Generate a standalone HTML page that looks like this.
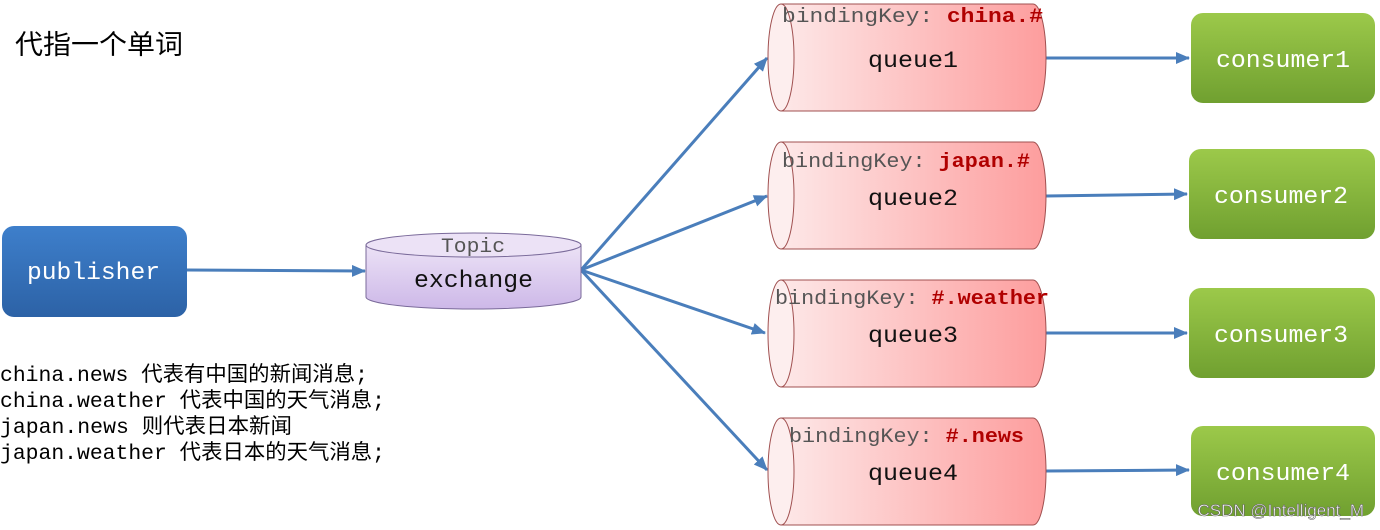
<!DOCTYPE html>
<html><head><meta charset="utf-8"><style>
html,body{margin:0;padding:0;background:#fff}
svg{display:block}
.m{font-family:"Liberation Mono","Noto Sans CJK SC",monospace}
</style></head><body>
<svg width="1380" height="530" viewBox="0 0 1380 530" xmlns="http://www.w3.org/2000/svg">
<defs>
<linearGradient id="qg" x1="0" x2="1" y1="0" y2="0"><stop offset="0" stop-color="#fde8e8"/><stop offset="1" stop-color="#fd9d9d"/></linearGradient>
<linearGradient id="pg" x1="0" x2="0" y1="0" y2="1"><stop offset="0" stop-color="#3e7fcb"/><stop offset="1" stop-color="#2c62a6"/></linearGradient>
<linearGradient id="cg" x1="0" x2="0" y1="0" y2="1"><stop offset="0" stop-color="#9cc94a"/><stop offset="1" stop-color="#70a030"/></linearGradient>
<linearGradient id="eg" x1="0" x2="0" y1="0" y2="1"><stop offset="0" stop-color="#ece2f6"/><stop offset="1" stop-color="#cdb8e8"/></linearGradient>
<marker id="ar" markerWidth="14" markerHeight="12" refX="13" refY="6" orient="auto" markerUnits="userSpaceOnUse"><path d="M0,0 L14,6 L0,12 Z" fill="#4a7ebb"/></marker>
</defs>
<text x="15" y="54" font-family="'Liberation Sans','Noto Sans CJK SC',sans-serif" font-size="27" fill="#000" textLength="168" lengthAdjust="spacingAndGlyphs">代指一个单词</text>

<rect x="2" y="226" width="185" height="91" rx="12" fill="url(#pg)"/>
<text x="27" y="279" class="m" font-size="24" fill="#fff" textLength="133" lengthAdjust="spacingAndGlyphs">publisher</text>

<g stroke="#4a7ebb" stroke-width="3" fill="none" marker-end="url(#ar)">
<line x1="187" y1="270" x2="365" y2="271"/>
<line x1="581" y1="270" x2="767" y2="58"/>
<line x1="581" y1="270" x2="767" y2="196"/>
<line x1="581" y1="270" x2="765" y2="333"/>
<line x1="581" y1="270" x2="767" y2="470"/>
<line x1="1046" y1="58" x2="1189" y2="58"/>
<line x1="1046" y1="196" x2="1187" y2="194"/>
<line x1="1046" y1="333" x2="1187" y2="333"/>
<line x1="1046" y1="471" x2="1189" y2="470"/>
</g>

<path d="M366,245 L366,297 A107.5,12 0 0 0 581,297 L581,245 Z" fill="url(#eg)" stroke="#7a6a9a" stroke-width="1"/>
<ellipse cx="473.5" cy="245" rx="107.5" ry="12" fill="#ece2f6" stroke="#7a6a9a" stroke-width="1"/>
<text x="441" y="252" class="m" font-size="20" fill="#555" textLength="64" lengthAdjust="spacingAndGlyphs">Topic</text>
<text x="414" y="287" class="m" font-size="24" fill="#111" textLength="119" lengthAdjust="spacingAndGlyphs">exchange</text>

<g>
<path d="M781,4 L1033,4 A13,53.5 0 0 1 1033,111 L781,111 Z" fill="url(#qg)" stroke="#a05050"/>
<ellipse cx="781" cy="57.5" rx="13" ry="53.5" fill="#fdeeee" stroke="#a05050"/>
<text x="782" y="22" class="m" font-size="20" fill="#555" textLength="261" lengthAdjust="spacingAndGlyphs">bindingKey: <tspan fill="#b00000" font-weight="bold">china.#</tspan></text>
<text x="868" y="67" class="m" font-size="23" fill="#111" textLength="90" lengthAdjust="spacingAndGlyphs">queue1</text>
</g>
<g>
<path d="M781,142 L1033,142 A13,53.5 0 0 1 1033,249 L781,249 Z" fill="url(#qg)" stroke="#a05050"/>
<ellipse cx="781" cy="195.5" rx="13" ry="53.5" fill="#fdeeee" stroke="#a05050"/>
<text x="782" y="167" class="m" font-size="20" fill="#555" textLength="248" lengthAdjust="spacingAndGlyphs">bindingKey: <tspan fill="#b00000" font-weight="bold">japan.#</tspan></text>
<text x="868" y="205" class="m" font-size="23" fill="#111" textLength="90" lengthAdjust="spacingAndGlyphs">queue2</text>
</g>
<g>
<path d="M781,280 L1033,280 A13,53.5 0 0 1 1033,387 L781,387 Z" fill="url(#qg)" stroke="#a05050"/>
<ellipse cx="781" cy="333.5" rx="13" ry="53.5" fill="#fdeeee" stroke="#a05050"/>
<text x="775" y="304" class="m" font-size="20" fill="#555" textLength="274" lengthAdjust="spacingAndGlyphs">bindingKey: <tspan fill="#b00000" font-weight="bold">#.weather</tspan></text>
<text x="868" y="342" class="m" font-size="23" fill="#111" textLength="90" lengthAdjust="spacingAndGlyphs">queue3</text>
</g>
<g>
<path d="M781,418 L1033,418 A13,53.5 0 0 1 1033,525 L781,525 Z" fill="url(#qg)" stroke="#a05050"/>
<ellipse cx="781" cy="471.5" rx="13" ry="53.5" fill="#fdeeee" stroke="#a05050"/>
<text x="789" y="442" class="m" font-size="20" fill="#555" textLength="235" lengthAdjust="spacingAndGlyphs">bindingKey: <tspan fill="#b00000" font-weight="bold">#.news</tspan></text>
<text x="868" y="480" class="m" font-size="23" fill="#111" textLength="90" lengthAdjust="spacingAndGlyphs">queue4</text>
</g>

<g class="m" font-size="24" fill="#fff">
<rect x="1191" y="13" width="184" height="90" rx="12" fill="url(#cg)"/>
<text x="1216" y="67" textLength="134" lengthAdjust="spacingAndGlyphs">consumer1</text>
<rect x="1189" y="149" width="186" height="90" rx="12" fill="url(#cg)"/>
<text x="1214" y="203" textLength="134" lengthAdjust="spacingAndGlyphs">consumer2</text>
<rect x="1189" y="288" width="186" height="90" rx="12" fill="url(#cg)"/>
<text x="1214" y="342" textLength="134" lengthAdjust="spacingAndGlyphs">consumer3</text>
<rect x="1191" y="426" width="184" height="90" rx="12" fill="url(#cg)"/>
<text x="1216" y="480" textLength="134" lengthAdjust="spacingAndGlyphs">consumer4</text>
</g>
<text x="1364" y="516" text-anchor="end" font-family="'Liberation Sans',sans-serif" font-size="17" fill="#fff" stroke="#666" stroke-width="0.6">CSDN @Intelligent_M</text>

<g class="m" font-size="21" fill="#000">
<text x="0" y="381" textLength="368" lengthAdjust="spacingAndGlyphs">china.news 代表有中国的新闻消息;</text>
<text x="0" y="407" textLength="385" lengthAdjust="spacingAndGlyphs">china.weather 代表中国的天气消息;</text>
<text x="0" y="433" textLength="292" lengthAdjust="spacingAndGlyphs">japan.news 则代表日本新闻</text>
<text x="0" y="459" textLength="385" lengthAdjust="spacingAndGlyphs">japan.weather 代表日本的天气消息;</text>
</g>
</svg>
</body></html>
